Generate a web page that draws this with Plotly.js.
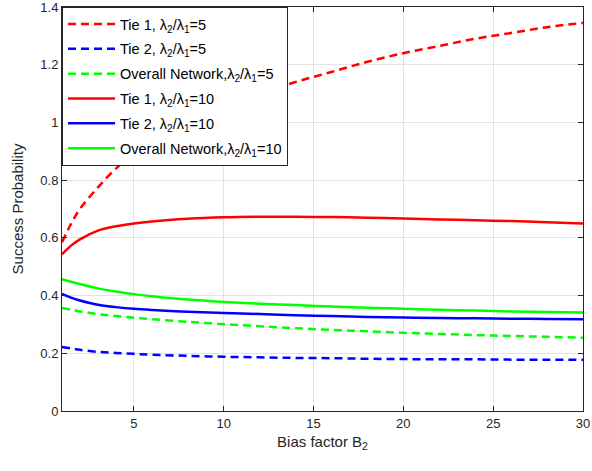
<!DOCTYPE html>
<html>
<head>
<meta charset="utf-8">
<script src="https://cdn.plot.ly/plotly-3.0.1.min.js"></script>
<style>html,body{margin:0;padding:0;background:#fff;}#chart{width:592px;height:471px;}</style>
</head>
<body>
<div id="chart"></div>
<script>
const biasFactor = [1, 1.5, 2, 3, 4, 5, 6, 8, 10, 12, 14, 16, 18, 20, 22, 24, 26, 28, 30];
const tie1Ratio5 = [0.585, 0.648, 0.70, 0.775, 0.84, 0.89, 0.93, 1.00, 1.05, 1.10, 1.14, 1.175, 1.21, 1.24, 1.265, 1.29, 1.31, 1.33, 1.345];
const tie2Ratio5 = [0.222, 0.217, 0.212, 0.205, 0.201, 0.198, 0.195, 0.191, 0.188, 0.186, 0.184, 0.183, 0.181, 0.180, 0.179, 0.179, 0.178, 0.178, 0.178];
const overallRatio5 = [0.357, 0.351, 0.345, 0.336, 0.329, 0.323, 0.318, 0.309, 0.301, 0.294, 0.287, 0.281, 0.276, 0.271, 0.267, 0.263, 0.260, 0.257, 0.254];
const tie1Ratio10 = [0.543, 0.573, 0.595, 0.625, 0.64, 0.65, 0.657, 0.666, 0.671, 0.673, 0.673, 0.672, 0.670, 0.667, 0.664, 0.661, 0.658, 0.654, 0.650];
const tie2Ratio10 = [0.406, 0.393, 0.383, 0.368, 0.36, 0.354, 0.350, 0.344, 0.340, 0.336, 0.332, 0.329, 0.326, 0.324, 0.322, 0.321, 0.320, 0.319, 0.318];
const overallRatio10 = [0.457, 0.448, 0.44, 0.425, 0.414, 0.405, 0.398, 0.386, 0.378, 0.372, 0.367, 0.362, 0.358, 0.354, 0.351, 0.348, 0.345, 0.343, 0.341];
const seriesNames = [
  'Tie 1, λ<sub>2</sub>/λ<sub>1</sub>=5',
  'Tie 2, λ<sub>2</sub>/λ<sub>1</sub>=5',
  'Overall Network,λ<sub>2</sub>/λ<sub>1</sub>=5',
  'Tie 1, λ<sub>2</sub>/λ<sub>1</sub>=10',
  'Tie 2, λ<sub>2</sub>/λ<sub>1</sub>=10',
  'Overall Network,λ<sub>2</sub>/λ<sub>1</sub>=10'
];
const xTicks = [5, 10, 15, 20, 25, 30];
const yTicks = [0, 0.2, 0.4, 0.6, 0.8, 1, 1.2, 1.4];
const yTickLabels = ['0', '0.2', '0.4', '0.6', '0.8', '1', '1.2', '1.4'];

const seriesData = [tie1Ratio5, tie2Ratio5, overallRatio5, tie1Ratio10, tie2Ratio10, overallRatio10];
const colors = ['#ff0000', '#0000ff', '#00ff00', '#ff0000', '#0000ff', '#00ff00'];
const dashes = ['8px,5px', '8px,5px', '8px,5px', 'solid', 'solid', 'solid'];

const traces = seriesData.map((ys, i) => ({
  x: biasFactor, y: ys, type: 'scatter', mode: 'lines', name: seriesNames[i],
  legendgroup: 'g' + i,
  line: {color: colors[i], width: 2.5, dash: dashes[i], shape: 'spline', smoothing: 1}
}));

const axisCommon = {
  showline: true, mirror: 'ticks', linecolor: '#262626', linewidth: 1,
  ticks: 'inside', ticklen: 5, tickcolor: '#262626',
  showgrid: true, gridcolor: '#e3e3e3', gridwidth: 1, zeroline: false,
  ticklabeloverflow: 'allow',
  tickfont: {family: 'Liberation Sans, Arial, sans-serif', size: 13, color: '#262626'}
};

const layout = {
  width: 592, height: 471,
  margin: {l: 62, r: 9, t: 7, b: 60},
  paper_bgcolor: '#ffffff', plot_bgcolor: '#ffffff',
  font: {family: 'Liberation Sans, Arial, sans-serif', color: '#262626'},
  xaxis: Object.assign({}, axisCommon, {
    range: [1, 30], tickvals: xTicks,
    title: {text: 'Bias factor B<sub>2</sub>', font: {size: 15, color: '#262626'}, standoff: 6}
  }),
  yaxis: Object.assign({}, axisCommon, {
    range: [0, 1.40001], tickvals: yTicks, ticktext: yTickLabels,
    title: {text: 'Success Probability', font: {size: 15, color: '#262626'}, standoff: 13}
  }),
  showlegend: true,
  legend: {
    x: 0, y: 1, xanchor: 'left', yanchor: 'top',
    bgcolor: '#ffffff', bordercolor: '#262626', borderwidth: 1,
    font: {family: 'Liberation Sans, Arial, sans-serif', size: 14.5, color: '#000000'},
    tracegroupgap: 3, itemwidth: 47
  }
};

Plotly.newPlot('chart', traces, layout, {displayModeBar: false, staticPlot: true});
</script>
</body>
</html>
